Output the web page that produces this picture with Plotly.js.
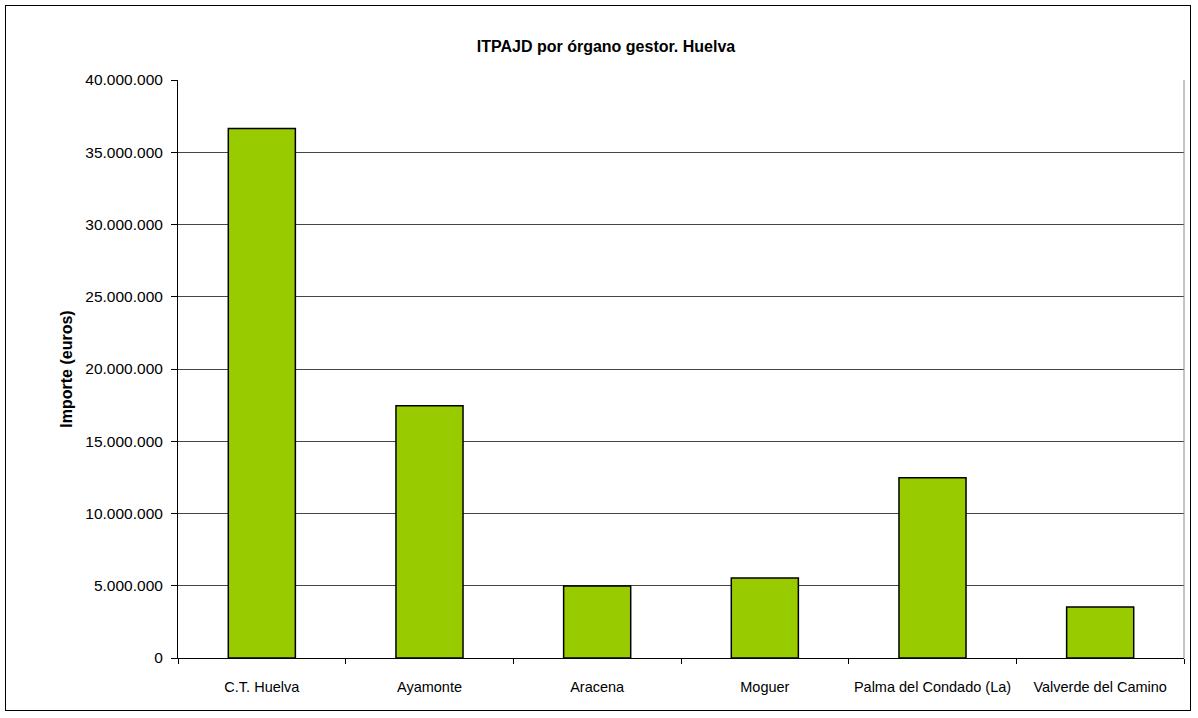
<!DOCTYPE html>
<html>
<head>
<meta charset="utf-8">
<script src="https://cdn.plot.ly/plotly-3.0.1.min.js"></script>
<style>
html,body{margin:0;padding:0;background:#fff;}
#frame{position:absolute;left:5px;top:5px;width:1186px;height:706px;border:1px solid #000;box-sizing:border-box;}
#chart{width:1184px;height:704px;}
</style>
</head>
<body>
<div id="frame"><div id="chart"></div></div>
<script>
const categories = ["C.T. Huelva", "Ayamonte", "Aracena", "Moguer", "Palma del Condado (La)", "Valverde del Camino"];
const importe = [36640000, 17460000, 4990000, 5540000, 12470000, 3530000];
const yTickVals = [0, 5000000, 10000000, 15000000, 20000000, 25000000, 30000000, 35000000, 40000000];
const yTickText = ["0", "5.000.000", "10.000.000", "15.000.000", "20.000.000", "25.000.000", "30.000.000", "35.000.000", "40.000.000"];

const trace = {
  type: "bar",
  x: categories,
  y: importe,
  marker: {color: "#99cc00", line: {color: "#000", width: 1.5}},
  hoverinfo: "x+y"
};

const layout = {
  width: 1184, height: 704,
  margin: {l: 172, r: 6, t: 74, b: 52},
  paper_bgcolor: "#fff", plot_bgcolor: "#fff",
  font: {family: "Liberation Sans, Arial, sans-serif", size: 14, color: "#000"},
  title: {text: "<b>ITPAJD por órgano gestor. Huelva</b>", font: {size: 16, color: "#000"}, x: 0.5 + 8/1184, xanchor: "center", y: 1 - 40/704, yanchor: "middle"},
  bargap: 0.6,
  showlegend: false,
  xaxis: {
    type: "category",
    showline: true, linecolor: "#000", linewidth: 1,
    ticks: "outside", tickson: "boundaries", ticklen: 5, tickcolor: "#000",
    showgrid: false,
    ticklabelstandoff: 16,
    tickfont: {size: 14.5, color: "#000"}
  },
  yaxis: {
    range: [0, 40000000],
    tickvals: yTickVals, ticktext: yTickText,
    showline: true, linecolor: "#000", linewidth: 1,
    ticks: "outside", ticklen: 6, tickcolor: "#000",
    showgrid: true, gridcolor: "#444", gridwidth: 1,
    zeroline: false,
    ticklabelstandoff: 5,
    tickfont: {size: 15.5, color: "#000"},
    title: {text: "<b>Importe (euros)</b>", font: {size: 16, color: "#000"}, standoff: 8}
  },
  shapes: [{type: "line", xref: "paper", yref: "paper", x0: 1, x1: 1, y0: 0, y1: 1, line: {color: "#888", width: 1}}]
};

Plotly.newPlot("chart", [trace], layout, {displayModeBar: false, staticPlot: true});
</script>
</body>
</html>
